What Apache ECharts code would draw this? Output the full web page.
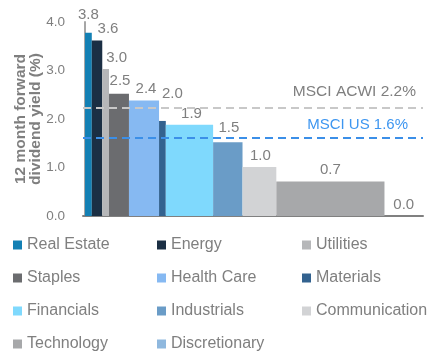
<!DOCTYPE html>
<html>
<head>
<meta charset="utf-8">
<script src="https://cdn.jsdelivr.net/npm/echarts@6/dist/echarts.min.js"></script>
<style>html,body{margin:0;padding:0;background:#fff}#c{width:434px;height:360px}</style>
</head>
<body>
<div id="c"></div>
<script>
const categories = ['Real Estate','Energy','Utilities','Staples','Health Care','Materials','Financials','Industrials','Communication','Technology','Discretionary'];
const yields = [3.78, 3.62, 3.03, 2.52, 2.38, 1.96, 1.88, 1.52, 1.01, 0.71, 0.0];
const weights = [2.0, 3.1, 2.0, 5.9, 8.9, 2.0, 14.0, 8.7, 10.0, 32.0, 11.4];
const benchmarkNames = ['MSCI ACWI', 'MSCI US'];
const benchmarkValues = [2.24, 1.62];

const colors = ['#1380b4','#1b2f44','#b6b7b9','#6b6c6f','#86b9f2','#33628f','#7fd9fd','#6a9cc7','#d2d3d5','#a7a8aa','#8fb8de'];
const labelShift = [[0,-6],[11,0],[11,0],[1,-1],[2,0],[10,-16],[2,1],[1,-3],[1,0],[0,0],[0,0]];
const grey = '#7f7f7f';
const font = 'Liberation Sans, Arial, sans-serif';

let cum = 0;
const series = categories.map((name, i) => {
  const x0 = cum; cum += weights[i];
  const s = {
    name, type: 'custom',
    itemStyle: {color: colors[i]},
    data: [[x0, cum, yields[i]]],
    encode: {x: [0, 1], y: 2},
    renderItem: (params, api) => {
      const a = api.coord([api.value(0), api.value(2)]);
      const b = api.coord([api.value(1), 0]);
      return {
        type: 'group',
        children: [
          {type: 'rect', shape: {x: a[0], y: a[1], width: b[0] - a[0], height: b[1] - a[1]}, style: {fill: colors[i]}},
          {type: 'text', style: {
            x: (a[0] + b[0]) / 2 + labelShift[i][0], y: a[1] - 4 + labelShift[i][1],
            text: api.value(2).toFixed(1), align: 'center', verticalAlign: 'bottom',
            fill: grey, font: '15px ' + font}}
        ]
      };
    }
  };
  if (i === 0) {
    s.markLine = {
      silent: true, symbol: 'none',
      data: benchmarkValues.map((v, k) => ({
        yAxis: v,
        lineStyle: {color: k === 0 ? '#c8c8c8' : '#3b8fe8', type: [8, 5], width: 2},
        label: {show: true, position: 'insideEndTop', distance: k === 0 ? [7, 8] : [15, 5],
          formatter: benchmarkNames[k] + ' ' + v.toFixed(1) + '%',
          color: k === 0 ? grey : '#3d96f0', fontSize: k === 0 ? 15.5 : 15, fontFamily: font}
      }))
    };
  }
  return s;
});

const cols = [[0,3,6,9],[1,4,7,10],[2,5,8]];
const lefts = [13, 157, 302];
const legends = cols.map((idx, c) => ({
  data: idx.map(i => categories[i]),
  orient: 'vertical', left: lefts[c], top: 236, padding: 0,
  itemWidth: 9, itemHeight: 9, itemGap: 15, icon: 'rect',
  selectedMode: false,
  textStyle: {color: grey, fontSize: 16, fontFamily: font, lineHeight: 18}
}));

const chart = echarts.init(document.getElementById('c'));
chart.setOption({
  animation: false,
  grid: {left: 83, right: 11, top: 22, bottom: 144, outerBoundsMode: 'none', containLabel: false},
  legend: legends,
  xAxis: {type: 'value', min: -0.6, max: 100,
    axisLine: {show: true, lineStyle: {color: '#808080', width: 2}},
    axisTick: {show: false}, axisLabel: {show: false}, splitLine: {show: false}},
  yAxis: {type: 'value', min: 0, max: 4, interval: 1,
    name: '12 month forward\ndividend yield (%)', nameLocation: 'middle', nameGap: 40, nameMoveOverlap: false,
    nameTextStyle: {color: grey, fontSize: 15.5, fontWeight: 'bold', fontFamily: font, lineHeight: 15},
    axisLine: {show: true, lineStyle: {color: '#a6a6a6', width: 2}},
    axisTick: {show: false}, splitLine: {show: false},
    axisLabel: {color: grey, fontSize: 13.5, fontFamily: font, margin: 18, formatter: v => v.toFixed(1)}},
  series
});
</script>
</body>
</html>
